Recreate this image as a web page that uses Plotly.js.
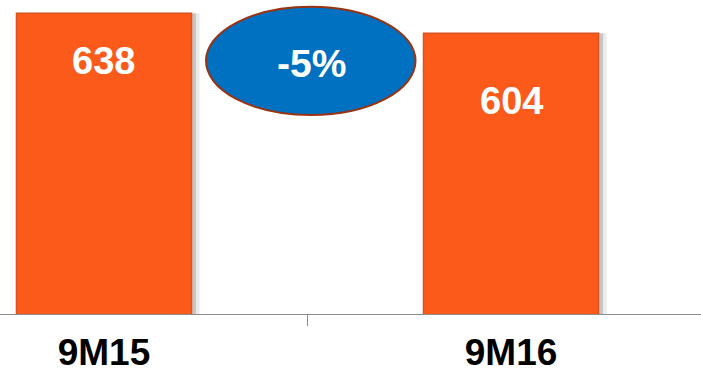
<!DOCTYPE html>
<html>
<head>
<meta charset="utf-8">
<script src="https://cdn.plot.ly/plotly-3.0.1.min.js"></script>
<style>
  html, body { margin: 0; padding: 0; background: #ffffff; }
  #chart { width: 701px; height: 376px; }
</style>
</head>
<body>
<div id="chart"></div>
<script>
// Nine-month totals, prior year vs current year
const periods = ['9M15', '9M16'];
const totals = [638, 604];
const changeLabel = '-5%';

const FONT = '"Liberation Sans", Arial, sans-serif';
const BAR_W = 0.43;

// soft drop shadow behind each bar (two layers for a feathered edge)
const shadowOuter = {
  type: 'bar',
  x: periods,
  y: totals,
  width: BAR_W,
  offset: -BAR_W / 2 + 0.02,
  marker: { color: 'rgba(0,0,0,0.08)', line: { width: 0 } },
  hoverinfo: 'skip',
  showlegend: false
};
const shadowInner = {
  type: 'bar',
  x: periods,
  y: totals,
  width: BAR_W,
  offset: -BAR_W / 2 + 0.011,
  marker: { color: 'rgba(0,0,0,0.16)', line: { width: 0 } },
  hoverinfo: 'skip',
  showlegend: false
};

const bars = {
  type: 'bar',
  x: periods,
  y: totals,
  width: BAR_W,
  marker: { color: '#FC5A1B', line: { color: '#D9531F', width: 1.5 } },
  hoverinfo: 'skip',
  showlegend: false
};

// value labels sit inside the top of each bar
const labelDrop = [25, 45];
const valueLabels = periods.map((p, i) => ({
  x: p, y: totals[i], xref: 'x', yref: 'y',
  text: '<b>' + totals[i] + '</b>',
  showarrow: false, yanchor: 'top', yshift: -labelDrop[i],
  font: { family: FONT, size: 38, color: '#ffffff' }
}));

const layout = {
  width: 701, height: 376,
  margin: { l: 0, r: 0, t: 0, b: 62 },
  paper_bgcolor: '#ffffff', plot_bgcolor: '#ffffff',
  barmode: 'overlay',
  xaxis: {
    type: 'category',
    range: [-0.2555, 1.4668],
    tickson: 'boundaries',
    ticks: 'outside', ticklen: 11, tickcolor: '#8c8c8c', tickwidth: 1,
    showline: true, linecolor: '#8c8c8c', linewidth: 1,
    showgrid: false, zeroline: false,
    ticklabelstandoff: 6,
    tickfont: { family: FONT, size: 37, color: '#000000', weight: 'bold' }
  },
  yaxis: {
    range: [126.6, 660.6],
    visible: false, showgrid: false, zeroline: false
  },
  shapes: [{
    type: 'circle', xref: 'paper', yref: 'paper',
    x0: 206 / 701, x1: 415.5 / 701,
    y0: 1 - 115 / 314, y1: 1 - 6.7 / 314,
    fillcolor: '#0070C0',
    line: { color: '#993311', width: 2 }
  }],
  annotations: valueLabels.concat([{
    xref: 'paper', yref: 'paper',
    x: 311 / 701, y: 1 - 63 / 314,
    text: '<b>' + changeLabel + '</b>',
    showarrow: false, xanchor: 'center', yanchor: 'middle',
    font: { family: FONT, size: 39, color: '#ffffff' }
  }])
};

Plotly.newPlot('chart', [shadowOuter, shadowInner, bars], layout, { displayModeBar: false, staticPlot: true });
</script>
</body>
</html>
